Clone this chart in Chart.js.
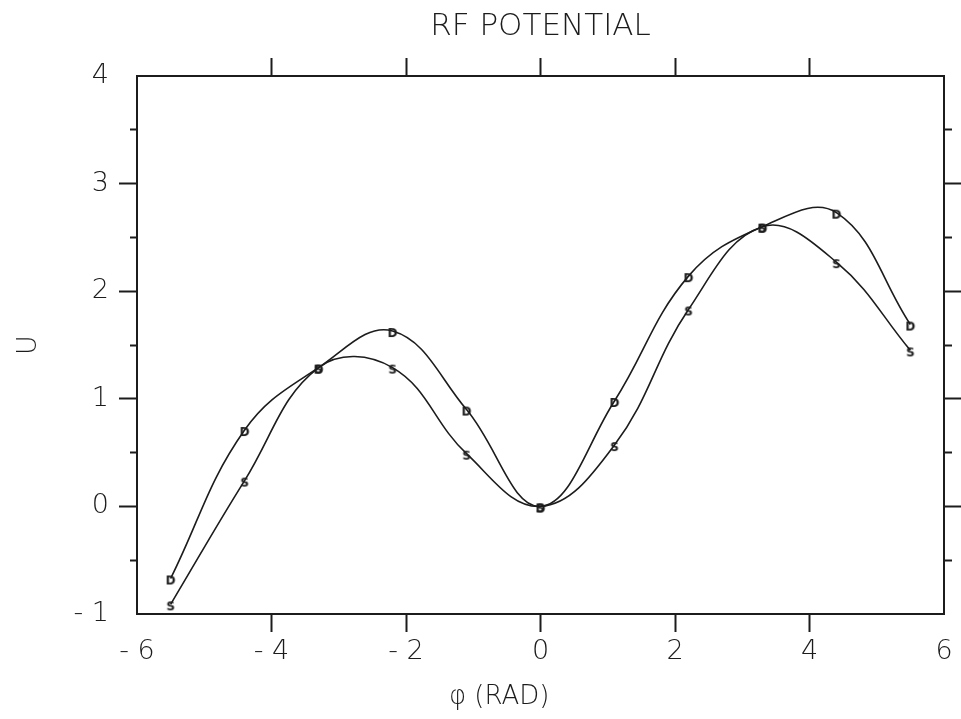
<!DOCTYPE html>
<html>
<head>
<meta charset="utf-8">
<script src="https://cdn.jsdelivr.net/npm/chart.js@4"></script>
<style>
  html, body { margin: 0; padding: 0; background: #fff; }
</style>
</head>
<body>
<canvas id="chart-rf-potential" width="961" height="719"></canvas>
<script>
// phase angle (rad) of the marked points
var phi = [-5.5, -4.4, -3.3, -2.2, -1.1, 0, 1.1, 2.2, 3.3, 4.4, 5.5];
// curve D
var uD = [-0.67, 0.71, 1.29, 1.63, 0.90, 0.0, 0.98, 2.14, 2.60, 2.73, 1.69];
// curve S
var uS = [-0.91, 0.24, 1.29, 1.29, 0.49, 0.0, 0.57, 1.83, 2.60, 2.27, 1.45];

var xMin = -6, xMax = 6, xStep = 2;
var yMin = -1, yMax = 4, yStep = 0.5;

var ink = '#1c1c1c';
var family = '"DejaVu Sans", sans-serif';

function fmt(v) {
    return v < 0 ? '- ' + Math.abs(v) : '' + v;
}

// letter used as a point marker, drawn a little below the point like the plotter did
function letterMarker(ch) {
    var c = document.createElement('canvas');
    c.width = 16;
    c.height = 16;
    var g = c.getContext('2d');
    g.fillStyle = ink;
    g.font = '600 12px ' + family;
    g.textAlign = 'center';
    g.textBaseline = 'middle';
    g.fillText(ch, 8, 11);
    return c;
}

function hideAt(values) {
    return function (ctx) {
        return ctx.tick && values.indexOf(ctx.tick.value) >= 0 ? 'rgba(0,0,0,0)' : ink;
    };
}

function halfTickDash(inner) {
    // integer ticks full length, half ticks only the part next to the frame
    return function (ctx) {
        if (!ctx.tick || Number.isInteger(ctx.tick.value)) return [];
        return inner ? [7, 100] : [0, 11, 7, 100];
    };
}

var border = { display: true, color: ink, width: 2 };

var ctx = document.getElementById('chart-rf-potential');
new Chart(ctx, {
    type: 'line',
    data: {
        datasets: [{
            label: 'D',
            data: phi.map(function (x, i) { return { x: x, y: uD[i] }; }),
            borderColor: ink,
            borderWidth: 1.6,
            pointStyle: letterMarker('D'),
            pointRadius: 6,
            tension: 0.4,
            fill: false,
            xAxisID: 'x',
            yAxisID: 'y'
        },
        {
            label: 'S',
            data: phi.map(function (x, i) { return { x: x, y: uS[i] }; }),
            borderColor: ink,
            borderWidth: 1.6,
            pointStyle: letterMarker('S'),
            pointRadius: 6,
            tension: 0.4,
            fill: false,
            xAxisID: 'x',
            yAxisID: 'y'
        }]
    },
    options: {
        responsive: false,
        animation: false,
        layout: { padding: 0 },
        plugins: {
            legend: { display: false },
            tooltip: { enabled: false }
        },
        scales: {
            x: {
                type: 'linear',
                position: 'bottom',
                min: xMin, max: xMax,
                ticks: {
                    stepSize: xStep,
                    callback: fmt,
                    color: ink,
                    padding: 4,
                    maxRotation: 0,
                    autoSkip: false,
                    font: { family: family, size: 27, weight: 300 }
                },
                grid: {
                    drawOnChartArea: false,
                    tickLength: 18,
                    tickWidth: 2,
                    tickColor: hideAt([xMin, xMax])
                },
                border: border,
                title: {
                    display: true,
                    text: 'φ (RAD)          ',
                    color: ink,
                    padding: { top: 0, bottom: 6 },
                    font: { family: family, size: 26, weight: 300 }
                },
                afterFit: function (s) { s.height = 105; }
            },
            x2: {
                type: 'linear',
                position: 'top',
                min: xMin, max: xMax,
                ticks: { stepSize: xStep, display: false },
                grid: {
                    drawOnChartArea: false,
                    tickLength: 18,
                    tickWidth: 2,
                    tickColor: hideAt([xMin, xMax])
                },
                border: border,
                title: {
                    display: true,
                    text: 'RF POTENTIAL',
                    color: ink,
                    padding: { top: 8, bottom: 0 },
                    font: { family: family, size: 31, weight: 300 }
                },
                afterFit: function (s) { s.height = 76; }
            },
            y: {
                position: 'left',
                min: yMin, max: yMax,
                ticks: {
                    stepSize: yStep,
                    callback: function (v) { return Number.isInteger(v) ? fmt(v) : ''; },
                    color: ink,
                    padding: 10,
                    font: { family: family, size: 27, weight: 300 }
                },
                grid: {
                    drawOnChartArea: false,
                    tickLength: 18,
                    tickWidth: 2,
                    tickColor: hideAt([yMin, yMax]),
                    tickBorderDash: halfTickDash(false)
                },
                border: border,
                title: {
                    display: true,
                    text: 'U',
                    color: ink,
                    padding: { top: 13, bottom: 0 },
                    font: { family: family, size: 27, weight: 300 }
                },
                afterFit: function (s) { s.width = 137; }
            },
            y2: {
                position: 'right',
                min: yMin, max: yMax,
                ticks: { stepSize: yStep, display: false },
                grid: {
                    drawOnChartArea: false,
                    tickLength: 18,
                    tickWidth: 2,
                    tickColor: hideAt([yMin, yMax]),
                    tickBorderDash: halfTickDash(true)
                },
                border: border,
                afterFit: function (s) { s.width = 17; }
            }
        }
    }
});
</script>
</body>
</html>
